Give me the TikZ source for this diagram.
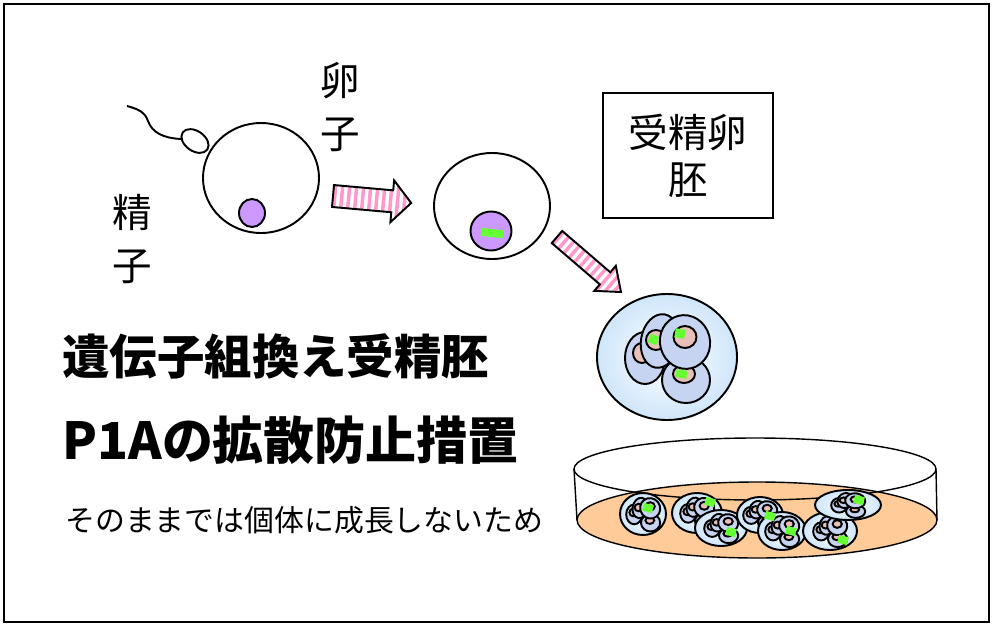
\documentclass[tikz,border=0pt]{standalone}
\usepackage{fontspec}
\newfontfamily\jpfont{Noto Sans CJK JP}
\usetikzlibrary{positioning}

\definecolor{stripepink}{HTML}{FF99CC}
\definecolor{nucpurple}{HTML}{CC99FF}
\definecolor{dnagreen}{HTML}{66FF33}
\definecolor{cellblue}{HTML}{C6D4F2}
\definecolor{nucpink}{HTML}{E8BFBA}
\definecolor{zonablue}{HTML}{CFE6FA}
\definecolor{dishorange}{HTML}{FFCC99}

\tikzset{
  outline/.style={draw=black, line width=1.1pt},
  cell/.style={outline, fill=cellblue},
  nucleus/.style={outline, fill=nucpink},
  dna/.style={fill=dnagreen},
  zona/.style={outline, inner color=white, outer color=zonablue},
  dish/.style={draw=black, line width=0.8pt},
  kanji/.style={font=\jpfont\fontsize{22.5pt}{#1}\selectfont, align=center, inner sep=0pt},
  kanji/.default=30pt,
  % block arrow with pink stripes: length, body half width, head half width, head length
  pics/stripearrow/.style n args={4}{code={
    \begin{scope}
      \clip (0,-#2) -- ({#1-#4},-#2) -- ({#1-#4},-#3) -- (#1,0) -- ({#1-#4},#3) -- ({#1-#4},#2) -- (0,#2) -- cycle;
      \foreach \k in {0,7,...,105}
        \fill[stripepink] (\k,-#3) rectangle ({\k+3.5},#3);
    \end{scope}
    \draw[outline, line join=miter] (0,-#2) -- ({#1-#4},-#2) -- ({#1-#4},-#3) -- (#1,0) -- ({#1-#4},#3) -- ({#1-#4},#2) -- (0,#2) -- cycle;
  }},
  % four-cell embryo, back to front
  pics/cluster/.style={code={
    \filldraw[cell] (-22,1) ellipse [x radius=20, y radius=26];
    \filldraw[nucleus] (-25,-4) ellipse [x radius=9, y radius=10];
    \filldraw[cell] (19,23) ellipse [x radius=24, y radius=23];
    \filldraw[nucleus] (17,17) ellipse [x radius=11, y radius=9];
    \filldraw[cell, rotate around={-10:(-7,-16)}] (-7,-16) ellipse [x radius=19, y radius=27];
    \filldraw[nucleus] (-11,-17) circle (10);
    \filldraw[cell, rotate around={15:(18,-15)}] (18,-15) ellipse [x radius=25, y radius=27];
    \filldraw[nucleus] (18,-20) ellipse [x radius=11.5, y radius=11];
  }},
}

\begin{document}
\begin{tikzpicture}[x=0.02cm, y=-0.02cm]
\useasboundingbox (0,0) rectangle (992,626);
% frame
\draw[line width=1.6pt] (4,4) rectangle (989,622);

% sperm and egg
\draw[outline] (127,106) .. controls (138,109) and (145,112) .. (148,121)
  .. controls (152,132) and (162,138) .. (181,139);
\draw[outline, rotate around={-35:(195,141)}] (195,141) ellipse [x radius=15, y radius=10];
\draw[outline] (261,178) ellipse [x radius=58, y radius=55];
\filldraw[outline, fill=nucpurple] (252,213) ellipse [x radius=13, y radius=14];
\node[kanji] (egglabel) at (340,107) {卵\\子};
\node[kanji] (spermlabel) at (132,239) {精\\子};

\pic[rotate=-5.1] at (333,196) {stripearrow={78.5}{11}{21}{19}};

% fertilised egg
\draw[outline] (492,206) ellipse [x radius=58, y radius=53];
\filldraw[outline, fill=nucpurple] (491,231) ellipse [x radius=20.5, y radius=19.5];
\fill[dna, rotate around={-7:(492,233)}] (481,229) rectangle (503,237);

\node[kanji=26.7pt, draw, line width=1.1pt, minimum width=3.4cm, minimum height=2.5cm] (zygotebox) at (688,155.5) {受精卵\\胚};

\pic[rotate=-40.7] at (557,237) {stripearrow={84.4}{8}{16.5}{21}};

% early embryo
\filldraw[zona] (667,357) ellipse [x radius=70, y radius=63];
\pic at (667,357) {cluster};
\fill[dna, rotate around={-20:(653.5,339.5)}] (649,335) rectangle (658,344);
\fill[dna, rotate around={-10:(680,333.5)}] (675,329) rectangle (685,338);
\fill[dna, rotate around={-10:(681.5,374)}] (676,370) rectangle (687,378);

% culture dish
\filldraw[dish, fill=dishorange] (757,520) ellipse [x radius=180, y radius=38];
\draw[dish] (574,469) -- (577,520) (936,469) -- (937,520);
\draw[dish] (755,469) ellipse [x radius=181, y radius=31];
\foreach \ex/\ey/\rx/\ry/\sy in {643/514/23/21/0.38, 697/513/25/20/0.36, 721/528/26/18/0.33,
    760/515/23/18/0.33, 782/531/24/19/0.35, 830/531/27/19/0.35, 848/505/33/15/0.28}{
  \filldraw[zona] (\ex,\ey) ellipse [x radius=\rx, y radius=\ry];
  \pic[xscale=0.4, yscale=\sy] at (\ex,\ey) {cluster};
}
\foreach \gx/\gy in {648/508, 710/502, 731/532, 770/516, 791/531, 843/540, 859/500}
  \fill[dna, rotate around={-15:(\gx,\gy)}] (\gx-5,\gy-4) rectangle (\gx+5,\gy+4);

% captions
\node[anchor=west, inner sep=0pt, font=\jpfont\bfseries\fontsize{27pt}{27pt}\selectfont] (title) at (62,356) {遺伝子組換え受精胚};
\node[anchor=west, inner sep=0pt, font=\jpfont\bfseries\fontsize{29pt}{29pt}\selectfont] (subtitle) at (62,440) {P1Aの拡散防止措置};
\node[anchor=west, inner sep=0pt, font=\jpfont\fontsize{17pt}{17pt}\selectfont] (reason) at (65,520) {そのままでは個体に成長しないため};
\end{tikzpicture}
\end{document}
